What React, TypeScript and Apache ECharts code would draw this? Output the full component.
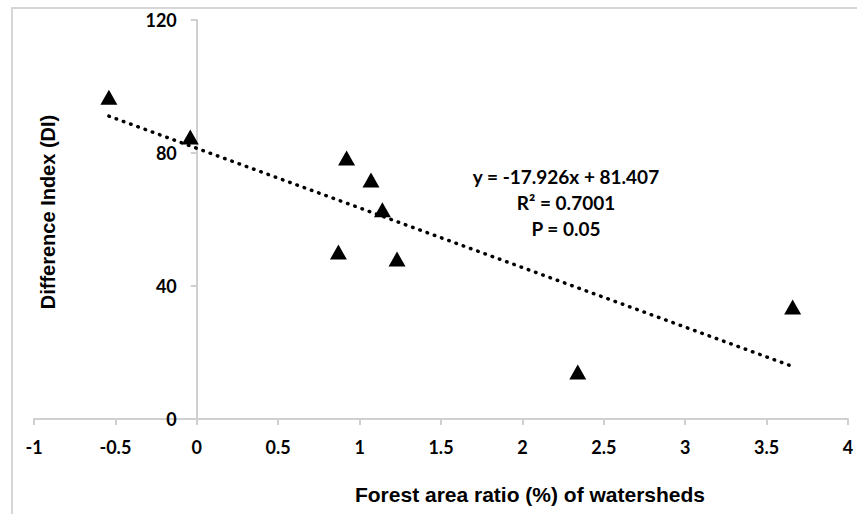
import React, { useEffect, useRef } from "react";
import * as echarts from "echarts";

const forestRatio = [-0.54, -0.04, 0.92, 0.87, 1.07, 1.14, 1.23, 2.34, 3.66];
const diffIndex = [96.8, 84.8, 78.5, 50.2, 71.9, 62.9, 48.1, 14.1, 33.7];
const trendSlope = -17.926;
const trendIntercept = 81.407;
const equationLines = ["y = -17.926x + 81.407", "R² = 0.7001", "P = 0.05"];
const xTitle = "Forest area ratio (%) of watersheds";
const yTitle = "Difference Index (DI)";

const X_MIN = -1;
const X_MAX = 4;
const GRID_LEFT = 34;
const GRID_RIGHT = 9;
const WIDTH = 857;
const HEIGHT = 514;

export default function App() {
  const ref = useRef<HTMLDivElement>(null);
  useEffect(() => {
    if (!ref.current) return;
    const chart = echarts.init(ref.current, undefined, { renderer: "svg" });
    const points = forestRatio.map((x, i) => [x, diffIndex[i]]);
    const xMin = Math.min(...forestRatio);
    const xMax = Math.max(...forestRatio);
    const trend = [
      [xMin, trendSlope * xMin + trendIntercept],
      [xMax, trendSlope * xMax + trendIntercept],
    ];
    const plotW = WIDTH - GRID_LEFT - GRID_RIGHT;
    const zeroOffset = ((0 - X_MIN) / (X_MAX - X_MIN)) * plotW;
    const tickFont = { fontFamily: "Lato", fontWeight: "bold" as const, fontSize: 18, color: "#000" };
    chart.setOption({
      animation: false,
      backgroundColor: "#fff",
      grid: { left: GRID_LEFT, right: GRID_RIGHT, top: 20, bottom: 95, outerBoundsMode: "none", containLabel: false },
      xAxis: {
        type: "value",
        min: X_MIN,
        max: X_MAX,
        interval: 0.5,
        splitLine: { show: false },
        axisLine: { onZero: false, lineStyle: { color: "#d0d0d0", width: 2 } },
        axisTick: { show: true, length: 6, lineStyle: { color: "#d0d0d0", width: 2 } },
        axisLabel: { ...tickFont, margin: 19 },
      },
      yAxis: {
        type: "value",
        min: 0,
        max: 120,
        interval: 40,
        offset: -zeroOffset,
        splitLine: { show: false },
        axisLine: { show: true, onZero: false, lineStyle: { color: "#d0d0d0", width: 2 } },
        axisTick: { show: true, length: 6, lineStyle: { color: "#d0d0d0", width: 2 } },
        axisLabel: { ...tickFont, margin: 20 },
      },
      graphic: [
        {
          type: "text",
          x: 530,
          y: 494,
          style: {
            text: xTitle,
            fontFamily: "Liberation Sans",
            fontWeight: "bold",
            fontSize: 21,
            fill: "#000",
            align: "center",
            verticalAlign: "middle",
          },
        },
        {
          type: "text",
          x: 48,
          y: 212,
          rotation: Math.PI / 2,
          style: {
            text: yTitle,
            fontFamily: "Liberation Sans",
            fontWeight: "bold",
            fontSize: 20,
            fill: "#000",
            align: "center",
            verticalAlign: "middle",
          },
        },
        {
          type: "text",
          x: 566,
          y: 202,
          style: {
            text: equationLines.join("\n"),
            fontFamily: "Lato",
            fontWeight: "bold",
            fontSize: 19,
            lineHeight: 26,
            fill: "#000",
            align: "center",
            verticalAlign: "middle",
          },
        },
      ],
      series: [
        {
          type: "line",
          data: trend,
          symbol: "none",
          silent: true,
          lineStyle: { color: "#000", width: 3.5, type: [0.5, 7.2], cap: "round" },
          z: 2,
        },
        {
          type: "scatter",
          data: points,
          symbol: "triangle",
          symbolSize: [17, 15],
          itemStyle: { color: "#000", opacity: 1 },
          z: 3,
        },
      ],
    });
    return () => chart.dispose();
  }, []);
  return (
    <div style={{ position: "fixed", left: 0, top: 0, width: WIDTH, height: HEIGHT, overflow: "hidden" }}>
      <div ref={ref} style={{ position: "absolute", left: 0, top: 0, width: WIDTH, height: HEIGHT }} />
      <div
        style={{
          position: "absolute",
          left: 11,
          top: 7,
          width: 900,
          height: 600,
          borderLeft: "2px solid #d6d6d6",
          borderTop: "2px solid #d6d6d6",
          pointerEvents: "none",
        }}
      />
    </div>
  );
}
